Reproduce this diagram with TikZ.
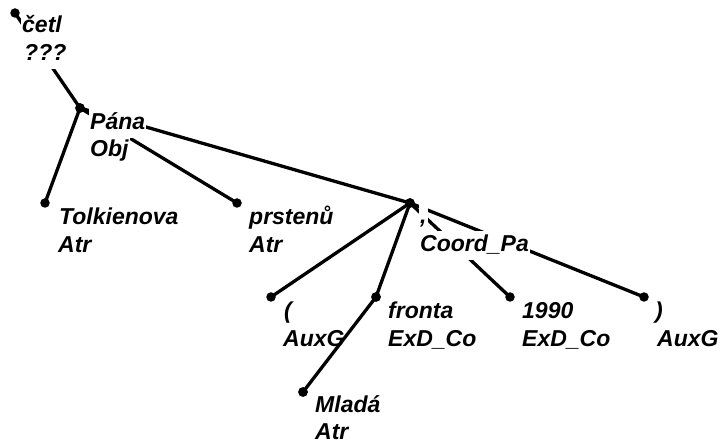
\documentclass[tikz,border=0pt]{standalone}
\usepackage{fontspec}
\setmainfont{Liberation Sans}
\begin{document}
\begin{tikzpicture}[x=1pt,y=-1pt,
  dot/.style={circle,fill=black,inner sep=0pt,minimum size=9.5pt},
  lbl/.style={anchor=base west,fill=white,inner xsep=1pt,inner ysep=0pt,
    text height=20.5pt,text depth=8pt,
    font=\fontsize{23}{27}\selectfont\bfseries\itshape},
  edge/.style={line width=3.3pt}]
\useasboundingbox[fill=white] (0,0) rectangle (723,443);
% dots
\node[dot] (cetl) at (15,13) {};
\node[dot] (pana) at (80,108) {};
\node[dot] (tolk) at (45,203) {};
\node[dot] (prst) at (237,203) {};
\node[dot] (coord) at (410,203) {};
\node[dot] (lpar) at (271,297) {};
\node[dot] (fronta) at (376,297) {};
\node[dot] (year) at (510,297) {};
\node[dot] (rpar) at (644,297) {};
\node[dot] (mlada) at (303,392) {};
% edges
\draw[edge] (cetl.center) -- (pana.center);
\draw[edge] (pana.center) -- (tolk.center);
\draw[edge] (pana.center) -- (prst.center);
\draw[edge] (pana.center) -- (coord.center);
\draw[edge] (coord.center) -- (lpar.center);
\draw[edge] (coord.center) -- (fronta.center);
\draw[edge] (coord.center) -- (year.center);
\draw[edge] (coord.center) -- (rpar.center);
% labels
\node[lbl] (l1a) at (21,33) {četl};
\node[lbl] (l1b) at (23,61) {???};
\node[lbl] (l2a) at (89,130) {Pána};
\node[lbl] (l2b) at (89,157) {Obj};
\node[lbl] (l3a) at (58,225) {Tolkienova};
\node[lbl] (l3b) at (57,253) {Atr};
\node[lbl] (l4a) at (248,225) {prstenů};
\node[lbl] (l4b) at (248,253) {Atr};
\node[lbl] (l5a) at (419,224) {,};
\node[lbl] (l5b) at (419,252) {Coord\_Pa};
\node[lbl] (l6a) at (283,319) {(};
\node[lbl] (l6b) at (282,347) {AuxG};
\node[lbl] (l7a) at (387,319) {fronta};
\node[lbl] (l7b) at (387,347) {ExD\_Co};
\node[lbl] (l8a) at (521,319) {1990};
\node[lbl] (l8b) at (521,347) {ExD\_Co};
\node[lbl] (l9a) at (654,319) {)};
\node[lbl] (l9b) at (656,347) {AuxG};
\node[lbl] (l10a) at (314,413) {Mladá};
\node[lbl] (l10b) at (314,439) {Atr};
% edge drawn over labels
\draw[edge] (fronta.center) -- (mlada.center);
\node[dot] at (fronta) {};
\node[dot] at (mlada) {};
\node[dot] at (coord) {};
\node[dot] at (pana) {};
\end{tikzpicture}
\end{document}
